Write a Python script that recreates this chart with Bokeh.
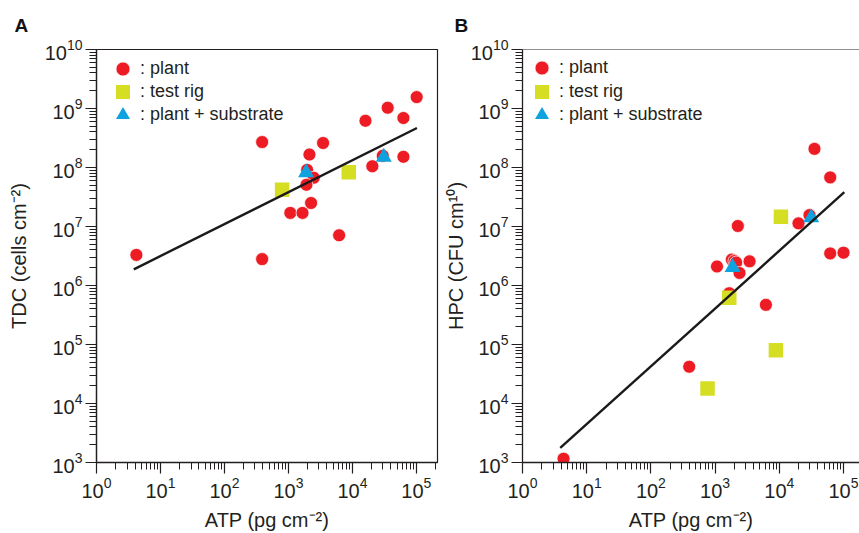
from bokeh.plotting import figure
from bokeh.models import FixedTicker, Legend, LegendItem, Span
from bokeh.layouts import row
from bokeh.embed import file_html
from bokeh.resources import INLINE

# ---------------- data ----------------
# Panel A: TDC vs ATP
a_plant_atp = [4.2, 388, 388, 2130, 1960, 2490, 1910, 2260, 1070, 1660, 3480, 6200,
               16000, 35600, 62700, 101000, 20500, 29800, 62700]
a_plant_tdc = [3.3e6, 2.7e8, 2.8e6, 1.66e8, 9.1e7, 6.7e7, 5.1e7, 2.5e7, 1.7e7, 1.7e7,
               2.6e8, 7.1e6, 6.2e8, 1.03e9, 6.9e8, 1.56e9, 1.05e8, 1.58e8, 1.52e8]
a_rig_atp = [796, 8770]
a_rig_tdc = [4.2e7, 8.3e7]
a_sub_atp = [1890, 30900]
a_sub_tdc = [8.2e7, 1.5e8]
a_fit_atp = [3.83, 1.02e5]
a_fit_tdc = [1.88e6, 4.68e8]

# Panel B: HPC vs ATP
b_plant_atp = [4.36, 395, 1070, 1660, 1820, 2000, 2130, 2260, 2400, 3440, 6180,
               19900, 29500, 35300, 62100, 62100, 100000]
b_plant_hpc = [1.16e3, 4.2e4, 2.1e6, 7.4e5, 2.75e6, 2.6e6, 2.45e6, 1.02e7, 1.63e6,
               2.57e6, 4.7e5, 1.13e7, 1.56e7, 2.07e8, 6.8e7, 3.5e6, 3.6e6]
b_rig_atp = [762, 1660, 8850, 10600]
b_rig_hpc = [1.8e4, 6.2e5, 8.0e4, 1.47e7]
b_sub_atp = [1870, 31400]
b_sub_hpc = [2.03e6, 1.41e7]
b_fit_atp = [3.87, 1.03e5]
b_fit_hpc = [1.77e3, 3.81e7]

legend_labels = [": plant", ": test rig", ": plant + substrate"]
y_major = [10 ** n for n in range(3, 11)]
y_minor = [m * 10 ** n for n in range(3, 10) for m in range(2, 10)]
x_major = [10 ** n for n in range(0, 6)]
x_minor = [m * 10 ** n for n in range(0, 6) for m in range(2, 10)]

# ---------------- style ----------------
RED = "#ED1C24"
YEL = "#D5DE23"
BLU = "#0EA3DF"
INK = "#231F20"
FONT = "Liberation Sans"
KEY = 35  # legend glyph box (marker size = 0.4 * KEY)


def make_panel(letter, width, x_end, borders, ylabel, plant, rig, sub, fit,
               ylab_standoff, boxed, key_x, key_rows):
    bl, br, bt, bb = borders
    p = figure(width=width, height=533, x_axis_type="log", y_axis_type="log",
               x_range=(1, x_end), y_range=(1e3, 1e10),
               output_backend="svg", toolbar_location=None,
               min_border_left=bl, min_border_right=br,
               min_border_top=bt, min_border_bottom=bb,
               background_fill_color="white", border_fill_color="white")
    p.grid.visible = False
    p.title.text = letter
    p.title.text_font = FONT
    p.title.text_font_size = "19px"
    p.title.text_font_style = "bold"
    p.title.text_color = "#111111"
    p.title.align = "left"
    p.title.vertical_align = "top"
    p.title.offset = -(bl - 14)
    p.title.standoff = 23

    if boxed:
        p.outline_line_color = INK
        p.outline_line_width = 1.2
    else:
        p.outline_line_color = None
        p.add_layout(Span(location=1e10, dimension="width", line_color=INK,
                          line_width=1.2))

    p.xaxis.ticker = FixedTicker(ticks=x_major, minor_ticks=x_minor)
    p.yaxis.ticker = FixedTicker(ticks=y_major, minor_ticks=y_minor)
    p.xaxis.axis_label = "ATP (pg cm\u207b\u00b2)"
    p.yaxis.axis_label = ylabel
    for ax in p.axis:
        ax.axis_line_color = INK
        ax.axis_line_width = 1.3
        ax.major_tick_line_color = INK
        ax.major_tick_line_width = 1.2
        ax.minor_tick_line_color = INK
        ax.minor_tick_line_width = 1.0
        ax.major_tick_in = 0
        ax.major_tick_out = 11
        ax.minor_tick_in = 0
        ax.minor_tick_out = 7
        ax.major_label_text_font = FONT
        ax.major_label_text_font_size = "20px"
        ax.major_label_text_color = INK
        ax.major_label_standoff = 3
        ax.axis_label_text_font = FONT
        ax.axis_label_text_font_size = "20px"
        ax.axis_label_text_font_style = "normal"
        ax.axis_label_text_color = INK
    p.xaxis.axis_label_standoff = 8
    p.yaxis.axis_label_standoff = ylab_standoff

    r_plant = p.scatter(x=plant[0], y=plant[1], marker="circle", size=13,
                        fill_color=RED, line_color="white", line_width=0.7)
    r_rig = p.scatter(x=rig[0], y=rig[1], marker="square", size=14.5,
                      fill_color=YEL, line_color=None)
    r_sub = p.scatter(x=sub[0], y=sub[1], marker="triangle", size=16,
                      fill_color=BLU, line_color=None)
    p.line(x=fit[0], y=fit[1], line_color="#1a1a1a", line_width=2.4)

    for lab, rend, vy in zip(legend_labels, [r_plant, r_rig, r_sub], key_rows):
        lg = Legend(items=[LegendItem(label=lab, renderers=[rend])],
                    location=(key_x, vy), margin=0, padding=0,
                    glyph_width=KEY, glyph_height=KEY, spacing=0,
                    label_standoff=0,
                    label_text_font=FONT, label_text_font_size="18px",
                    label_text_color=INK,
                    background_fill_alpha=0, border_line_color=None)
        p.add_layout(lg, "center")
    return p


pA = make_panel("A", 440, 10 ** 5.33, (96, 3, 47, 71), "TDC (cells cm\u207b\u00b2)",
                (a_plant_atp, a_plant_tdc), (a_rig_atp, a_rig_tdc),
                (a_sub_atp, a_sub_tdc), (a_fit_atp, a_fit_tdc), 12, True,
                9, [376, 353, 330])
pB = make_panel("B", 419, 10 ** 5.249, (82, 0, 49, 68), "HPC (CFU cm\u00b9\u2070)",
                (b_plant_atp, b_plant_hpc), (b_rig_atp, b_rig_hpc),
                (b_sub_atp, b_sub_hpc), (b_fit_atp, b_fit_hpc), 1, False,
                2, [377, 353, 330])

layout = row(pA, pB)
open("out.html", "w").write(file_html(layout, INLINE))
